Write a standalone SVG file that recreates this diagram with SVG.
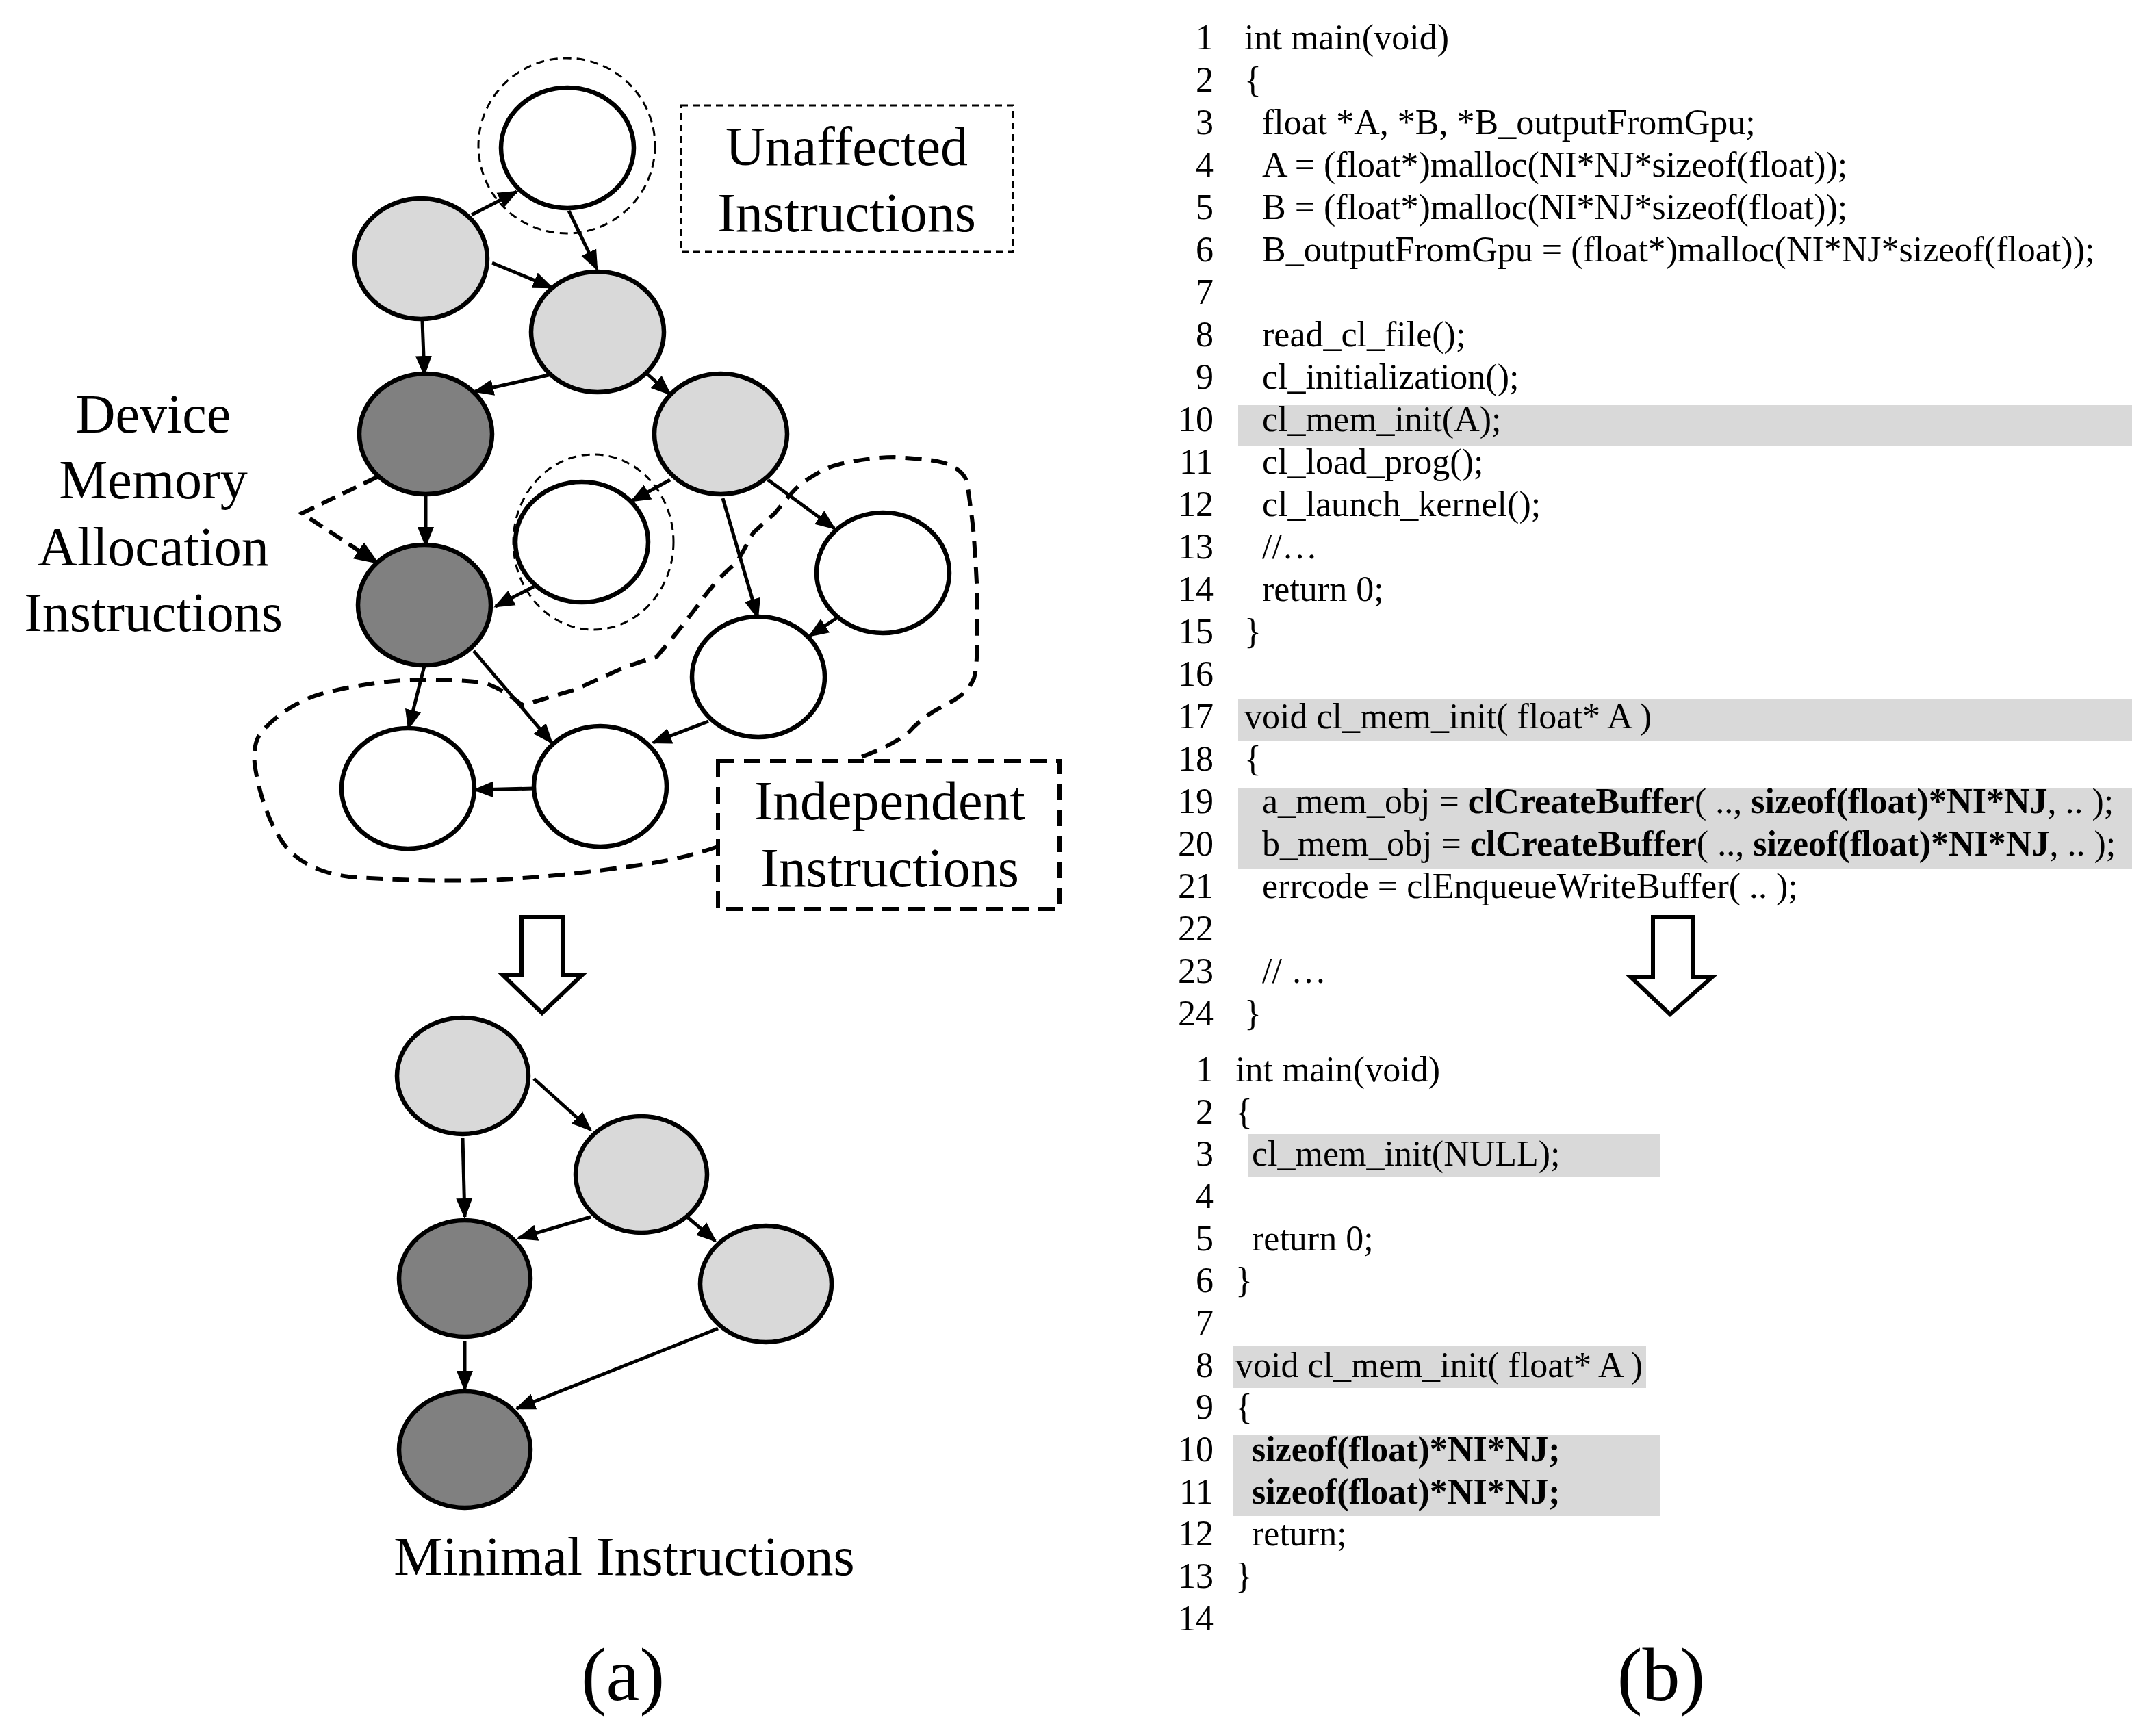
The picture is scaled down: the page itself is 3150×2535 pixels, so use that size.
<svg xmlns="http://www.w3.org/2000/svg" width="3150" height="2535" viewBox="0 0 3150 2535">
<style>
.n{stroke:#000;stroke-width:6.5}
.w{fill:#fff}.l{fill:#d9d9d9}.d{fill:#808080}
.e{stroke:#000;stroke-width:5;fill:none;marker-end:url(#ah)}
.t{font-family:"Liberation Serif","Times New Roman",serif;font-size:80px;fill:#000}
.c{font-family:"Liberation Serif","Times New Roman",serif;font-size:52px;fill:#000}
.num{text-anchor:end}
.hl{fill:#d9d9d9}
.ring{fill:none;stroke:#000;stroke-width:3;stroke-dasharray:12 8}
.big{fill:none;stroke:#000;stroke-width:6;stroke-dasharray:24 14}
.hollow{fill:#fff;stroke:#000;stroke-width:6}
b{font-weight:bold}
</style>
<defs>
<marker id="ah" viewBox="0 0 10 10" refX="9" refY="5" markerWidth="6" markerHeight="6" orient="auto" markerUnits="strokeWidth"><path d="M0,1 L10,5 L0,9 Z" fill="#000"/></marker>
</defs>
<rect width="3150" height="2535" fill="#fff"/>

<!-- highlights -->
<g id="highlights">
<rect class="hl" x="1809" y="592" width="1306" height="60"/>
<rect class="hl" x="1809" y="1022" width="1306" height="61"/>
<rect class="hl" x="1809" y="1152" width="1306" height="118"/>
<rect class="hl" x="1824" y="1657" width="601" height="62"/>
<rect class="hl" x="1802" y="1967" width="603" height="61"/>
<rect class="hl" x="1802" y="2096" width="623" height="119"/>
</g>

<g id="rings">
<ellipse class="ring" cx="828" cy="213" rx="129" ry="128"/>
<ellipse class="ring" cx="867" cy="792" rx="117" ry="128"/>
</g>

<g id="connectors">
<line class="e" x1="689" y1="314" x2="755" y2="280"/>
<line class="e" x1="831" y1="308" x2="872" y2="393"/>
<line class="e" x1="719" y1="384" x2="806" y2="420"/>
<line class="e" x1="617" y1="469" x2="620" y2="547"/>
<line class="e" x1="806" y1="547" x2="694" y2="572"/>
<line class="e" x1="944" y1="545" x2="979" y2="576"/>
<line class="e" x1="622" y1="719" x2="622" y2="797"/>
<line class="e" x1="979" y1="701" x2="923" y2="732"/>
<line class="e" x1="1056" y1="728" x2="1107" y2="902"/>
<line class="e" x1="1122" y1="701" x2="1219" y2="772"/>
<line class="e" x1="780" y1="857" x2="724" y2="886"/>
<line class="e" x1="1224" y1="902" x2="1183" y2="929"/>
<line class="e" x1="620" y1="973" x2="597" y2="1064"/>
<line class="e" x1="692" y1="951" x2="806" y2="1085"/>
<line class="e" x1="1035" y1="1054" x2="954" y2="1085"/>
<line class="e" x1="780" y1="1152" x2="694" y2="1154"/>
<path d="M551,697 L441,750 L551,822" fill="none" stroke="#000" stroke-width="6" stroke-dasharray="22 12" marker-start="url(#ah)" marker-end="url(#ah)"/>
<line class="e" x1="780" y1="1576" x2="863" y2="1651"/>
<line class="e" x1="676" y1="1663" x2="679" y2="1778"/>
<line class="e" x1="863" y1="1778" x2="758" y2="1809"/>
<line class="e" x1="1004" y1="1778" x2="1045" y2="1813"/>
<line class="e" x1="679" y1="1959" x2="679" y2="2030"/>
<line class="e" x1="1049" y1="1941" x2="755" y2="2058"/>
</g>

<g id="blob">
<path class="big" d="M1049,1237 C1010,1250 980,1258 920,1266 C860,1274 800,1282 714,1286 C640,1288 560,1285 510,1281 C470,1276 440,1262 420,1240 C395,1210 378,1160 372,1116 C370,1090 375,1075 388,1063 C410,1040 440,1022 469,1014 C520,1000 580,993 612,993 C660,993 700,995 714,1000 C740,1010 755,1025 765,1031 C790,1022 815,1015 836,1009 C870,995 900,980 918,973 C940,966 955,960 959,960 C985,930 1000,910 1020,884 C1040,855 1060,835 1076,822 C1090,800 1095,785 1102,777 C1115,765 1125,756 1132,750 C1150,728 1160,715 1173,705 C1195,690 1210,682 1224,679 C1260,670 1290,668 1306,668 C1340,670 1370,672 1387,679 C1405,688 1410,695 1413,705 C1418,740 1422,770 1423,786 C1426,830 1428,860 1428,893 C1428,940 1428,975 1423,991 C1415,1010 1400,1020 1387,1027 C1360,1040 1340,1055 1326,1072 C1300,1090 1275,1100 1255,1107"/>
</g>

<g id="n_top"><ellipse class="n w" cx="829" cy="216" rx="97" ry="88"/></g>
<g id="n_A"><ellipse class="n l" cx="615" cy="378" rx="97" ry="88"/></g>
<g id="n_B"><ellipse class="n l" cx="873" cy="485" rx="97" ry="88"/></g>
<g id="n_C"><ellipse class="n d" cx="622" cy="634" rx="97" ry="88"/></g>
<g id="n_D"><ellipse class="n l" cx="1053" cy="634" rx="97" ry="88"/></g>
<g id="n_E"><ellipse class="n w" cx="850" cy="792" rx="97" ry="88"/></g>
<g id="n_F"><ellipse class="n w" cx="1290" cy="837" rx="97" ry="88"/></g>
<g id="n_G"><ellipse class="n d" cx="620" cy="884" rx="97" ry="88"/></g>
<g id="n_H"><ellipse class="n w" cx="1108" cy="989" rx="97" ry="88"/></g>
<g id="n_I"><ellipse class="n w" cx="596" cy="1152" rx="97" ry="88"/></g>
<g id="n_J"><ellipse class="n w" cx="877" cy="1149" rx="97" ry="88"/></g>

<g id="m1"><ellipse class="n l" cx="676" cy="1572" rx="96" ry="85"/></g>
<g id="m2"><ellipse class="n l" cx="937" cy="1716" rx="96" ry="85"/></g>
<g id="m3"><ellipse class="n d" cx="679" cy="1868" rx="96" ry="85"/></g>
<g id="m4"><ellipse class="n l" cx="1119" cy="1876" rx="96" ry="85"/></g>
<g id="m5"><ellipse class="n d" cx="679" cy="2118" rx="96" ry="85"/></g>

<g id="lbl_unaffected">
<rect x="995" y="154" width="485" height="214" fill="none" stroke="#000" stroke-width="3" stroke-dasharray="10 7"/>
<text class="t" x="1237" y="241" text-anchor="middle">Unaffected</text>
<text class="t" x="1237" y="338" text-anchor="middle">Instructions</text>
</g>
<g id="lbl_device">
<text class="t" x="224" y="632" text-anchor="middle">Device</text>
<text class="t" x="224" y="728" text-anchor="middle">Memory</text>
<text class="t" x="224" y="826" text-anchor="middle">Allocation</text>
<text class="t" x="224" y="922" text-anchor="middle">Instructions</text>
</g>
<g id="lbl_independent">
<rect class="big" x="1049" y="1112" width="499" height="216" fill="#fff"/>
<text class="t" x="1300" y="1197" text-anchor="middle">Independent</text>
<text class="t" x="1300" y="1295" text-anchor="middle">Instructions</text>
</g>

<g id="arrowL"><path class="hollow" d="M762,1340 L822,1340 L822,1425 L850,1425 L792,1480 L735,1425 L762,1425 Z"/></g>
<g id="arrowR"><path class="hollow" d="M2415,1340 L2473,1340 L2473,1428 L2501,1428 L2440,1482 L2383,1428 L2415,1428 Z"/></g>

<text class="t" x="912" y="2301" text-anchor="middle">Minimal Instructions</text>
<text class="t" x="910" y="2484" text-anchor="middle" style="font-size:110px">(a)</text>
<text class="t" x="2427" y="2484" text-anchor="middle" style="font-size:110px">(b)</text>

<g id="code1" class="c">
<text class="num" x="1773" y="72">1</text><text x="1818" y="72">int main(void)</text>
<text class="num" x="1773" y="134">2</text><text x="1818" y="134">{</text>
<text class="num" x="1773" y="196">3</text><text x="1844" y="196">float *A, *B, *B_outputFromGpu;</text>
<text class="num" x="1773" y="258">4</text><text x="1844" y="258">A = (float*)malloc(NI*NJ*sizeof(float));</text>
<text class="num" x="1773" y="320">5</text><text x="1844" y="320">B = (float*)malloc(NI*NJ*sizeof(float));</text>
<text class="num" x="1773" y="382">6</text><text x="1844" y="382">B_outputFromGpu = (float*)malloc(NI*NJ*sizeof(float));</text>
<text class="num" x="1773" y="444">7</text>
<text class="num" x="1773" y="506">8</text><text x="1844" y="506">read_cl_file();</text>
<text class="num" x="1773" y="568">9</text><text x="1844" y="568">cl_initialization();</text>
<text class="num" x="1773" y="630">10</text><text x="1844" y="630">cl_mem_init(A);</text>
<text class="num" x="1773" y="692">11</text><text x="1844" y="692">cl_load_prog();</text>
<text class="num" x="1773" y="754">12</text><text x="1844" y="754">cl_launch_kernel();</text>
<text class="num" x="1773" y="816">13</text><text x="1844" y="816">//…</text>
<text class="num" x="1773" y="878">14</text><text x="1844" y="878">return 0;</text>
<text class="num" x="1773" y="940">15</text><text x="1818" y="940">}</text>
<text class="num" x="1773" y="1002">16</text>
<text class="num" x="1773" y="1064">17</text><text x="1818" y="1064">void cl_mem_init( float* A )</text>
<text class="num" x="1773" y="1126">18</text><text x="1818" y="1126">{</text>
<text class="num" x="1773" y="1188">19</text><text x="1844" y="1188">a_mem_obj = <tspan font-weight="bold">clCreateBuffer</tspan>( .., <tspan font-weight="bold">sizeof(float)*NI*NJ</tspan>, .. );</text>
<text class="num" x="1773" y="1250">20</text><text x="1844" y="1250">b_mem_obj = <tspan font-weight="bold">clCreateBuffer</tspan>( .., <tspan font-weight="bold">sizeof(float)*NI*NJ</tspan>, .. );</text>
<text class="num" x="1773" y="1312">21</text><text x="1844" y="1312">errcode = clEnqueueWriteBuffer( .. );</text>
<text class="num" x="1773" y="1374">22</text>
<text class="num" x="1773" y="1436">23</text><text x="1844" y="1436">// …</text>
<text class="num" x="1773" y="1498">24</text><text x="1818" y="1498">}</text>
</g>

<g id="code2" class="c">
<text class="num" x="1773" y="1580">1</text><text x="1805" y="1580">int main(void)</text>
<text class="num" x="1773" y="1642">2</text><text x="1805" y="1642">{</text>
<text class="num" x="1773" y="1703">3</text><text x="1829" y="1703">cl_mem_init(NULL);</text>
<text class="num" x="1773" y="1765">4</text>
<text class="num" x="1773" y="1827">5</text><text x="1829" y="1827">return 0;</text>
<text class="num" x="1773" y="1888">6</text><text x="1805" y="1888">}</text>
<text class="num" x="1773" y="1950">7</text>
<text class="num" x="1773" y="2012">8</text><text x="1805" y="2012">void cl_mem_init( float* A )</text>
<text class="num" x="1773" y="2073">9</text><text x="1805" y="2073">{</text>
<text class="num" x="1773" y="2135">10</text><text x="1829" y="2135" font-weight="bold">sizeof(float)*NI*NJ;</text>
<text class="num" x="1773" y="2197">11</text><text x="1829" y="2197" font-weight="bold">sizeof(float)*NI*NJ;</text>
<text class="num" x="1773" y="2258">12</text><text x="1829" y="2258">return;</text>
<text class="num" x="1773" y="2320">13</text><text x="1805" y="2320">}</text>
<text class="num" x="1773" y="2382">14</text>
</g>
</svg>
